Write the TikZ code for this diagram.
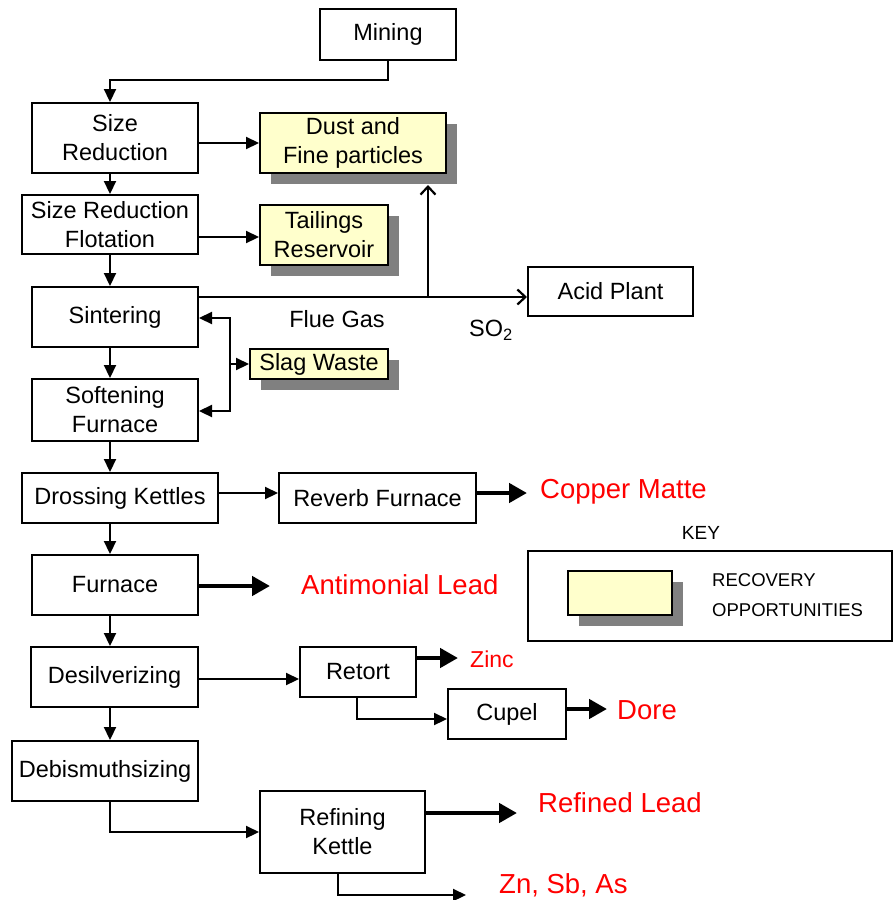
\documentclass[tikz,border=0pt]{standalone}
\usepackage{fontspec}
\setmainfont{Liberation Sans}
\usetikzlibrary{arrows.meta,shadows,calc}
\definecolor{ylw}{HTML}{FFFFCC}
\definecolor{shd}{HTML}{808080}
\definecolor{redtxt}{HTML}{FF0000}
\begin{document}
\begin{tikzpicture}[x=1pt,y=-1pt,
  box/.style={draw, line width=2pt, fill=white, inner sep=0pt, align=center, font=\fontsize{23.5}{29}\selectfont},
  rec/.style={box, fill=ylw, general shadow={fill=shd, shadow xshift=11pt, shadow yshift=-11pt}},
  arr/.style={line width=2.2pt, -{Triangle[length=13pt,width=12pt]}},
  bigarr/.style={line width=4.8pt, -{Triangle[length=18pt,width=19pt]}},
  barbarr/.style={line width=2.2pt, -{Straight Barb[length=8pt,width=15pt]}},
  lbl/.style={font=\fontsize{23.5}{29}\selectfont, inner sep=0pt},
  redl/.style={text=redtxt, font=\fontsize{27.5}{32}\selectfont, anchor=west, inner sep=0pt}]
\useasboundingbox (0,0) rectangle (893,900);
\coordinate (spine) at (110,0);
% process boxes
\node[box, minimum width=136pt, minimum height=51pt] (mining) at (388,34) {Mining};
\node[box, minimum width=166pt, minimum height=70pt] (sr) at (115,138) {Size\\Reduction};
\node[rec, minimum width=186pt, minimum height=60pt] (dust) at (353,143) {Dust and\\Fine particles};
\node[box, minimum width=176pt, minimum height=59pt] (srf) at (110,224.5) {Size Reduction\\Flotation};
\node[rec, minimum width=128pt, minimum height=60pt] (tail) at (324,235) {Tailings\\Reservoir};
\node[box, minimum width=166pt, minimum height=60pt] (sint) at (115,317) {Sintering};
\node[box, minimum width=165pt, minimum height=49pt] (acid) at (610.5,291.5) {Acid Plant};
\node[rec, minimum width=138pt, minimum height=30pt] (slag) at (319,364) {Slag Waste};
\node[box, minimum width=166pt, minimum height=62pt] (soft) at (115,410) {Softening\\Furnace};
\node[box, minimum width=196pt, minimum height=50pt] (dross) at (120,498) {Drossing Kettles};
\node[box, minimum width=197pt, minimum height=50pt] (reverb) at (377.5,498) {Reverb Furnace};
\node[box, minimum width=166pt, minimum height=60pt] (furn) at (115,585) {Furnace};
\node[box, minimum width=167pt, minimum height=60pt] (desil) at (114.5,677) {Desilverizing};
\node[box, minimum width=116pt, minimum height=50pt] (retort) at (358,672) {Retort};
\node[box, minimum width=118pt, minimum height=50pt] (cupel) at (507,714) {Cupel};
\node[box, minimum width=186pt, minimum height=60pt] (debis) at (105,771) {Debismuthsizing};
\node[box, minimum width=165pt, minimum height=82pt] (refin) at (342.5,832) {Refining\\Kettle};
% key
\node[lbl, font=\fontsize{19}{24}\selectfont] (keyt) at (701,533) {KEY};
\node[box, minimum width=364pt, minimum height=90pt] (keybox) at (710,596) {};
\node[rec, minimum width=104pt, minimum height=44pt] (keyy) at (620,593) {};
\node[lbl, anchor=west, align=left, font=\fontsize{18.5}{30}\selectfont] (keytxt) at (712,595) {RECOVERY\\OPPORTUNITIES};
% labels
\node[lbl] (flue) at (337,319) {Flue Gas};
\node[lbl] (so2) at (491,330) {SO\textsubscript{2}};
\node[redl] (copper) at (540,492) {Copper Matte};
\node[redl] (antim) at (301,585) {Antimonial Lead};
\node[redl, font=\fontsize{23}{28}\selectfont] (zinc) at (470,659) {Zinc};
\node[redl] (dore) at (617,710) {Dore};
\node[redl] (refl) at (538,803) {Refined Lead};
\node[redl] (znsb) at (499,885) {Zn, Sb, As};
% main spine
\draw[arr] (mining.south) -- (mining.south |- 0,80) -| (sr.north -| spine);
\draw[arr] (sr.south -| spine) -- (srf.north -| spine);
\draw[arr] (srf.south -| spine) -- (sint.north -| spine);
\draw[arr] (sint.south -| spine) -- (soft.north -| spine);
\draw[arr] (soft.south -| spine) -- (dross.north -| spine);
\draw[arr] (dross.south -| spine) -- (furn.north -| spine);
\draw[arr] (furn.south -| spine) -- (desil.north -| spine);
\draw[arr] (desil.south -| spine) -- (debis.north -| spine);
% side branches
\draw[arr] (sr.east |- 0,143) -- (dust.west |- 0,143);
\draw[arr] (srf.east |- 0,237) -- (tail.west |- 0,237);
\coordinate (fj) at (428,297);
\draw[barbarr] (sint.east |- fj) -- (acid.west |- fj);
\draw[barbarr] (fj) -- (fj |- 0,185);
\coordinate (sb) at (230,364);
\draw[arr] (sb) -- (slag.west);
\draw[arr] (sb) |- (sint.east |- 0,318);
\draw[arr] (sb) |- (soft.east |- 0,411);
\draw[arr] (dross.east |- 0,493) -- (reverb.west |- 0,493);
\draw[arr] (desil.east |- 0,679) -- (retort.west |- 0,679);
\draw[arr] (retort.south -| 357,0) |- (cupel.west |- 0,719);
\draw[arr] (debis.south -| spine) |- (refin.west |- 0,832);
\coordinate (znend) at (466,895);
\draw[arr] (refin.south -| 338,0) |- (znend);
% product arrows
\coordinate (cmend) at (527,493);
\coordinate (alend) at (270,586);
\coordinate (znc) at (458,658);
\coordinate (drend) at (607,709);
\coordinate (rlend) at (517,813);
\draw[bigarr] (reverb.east |- cmend) -- (cmend);
\draw[bigarr] (furn.east |- alend) -- (alend);
\draw[bigarr] (retort.east |- znc) -- (znc);
\draw[bigarr] (cupel.east |- drend) -- (drend);
\draw[bigarr] (refin.east |- rlend) -- (rlend);
\end{tikzpicture}
\end{document}
